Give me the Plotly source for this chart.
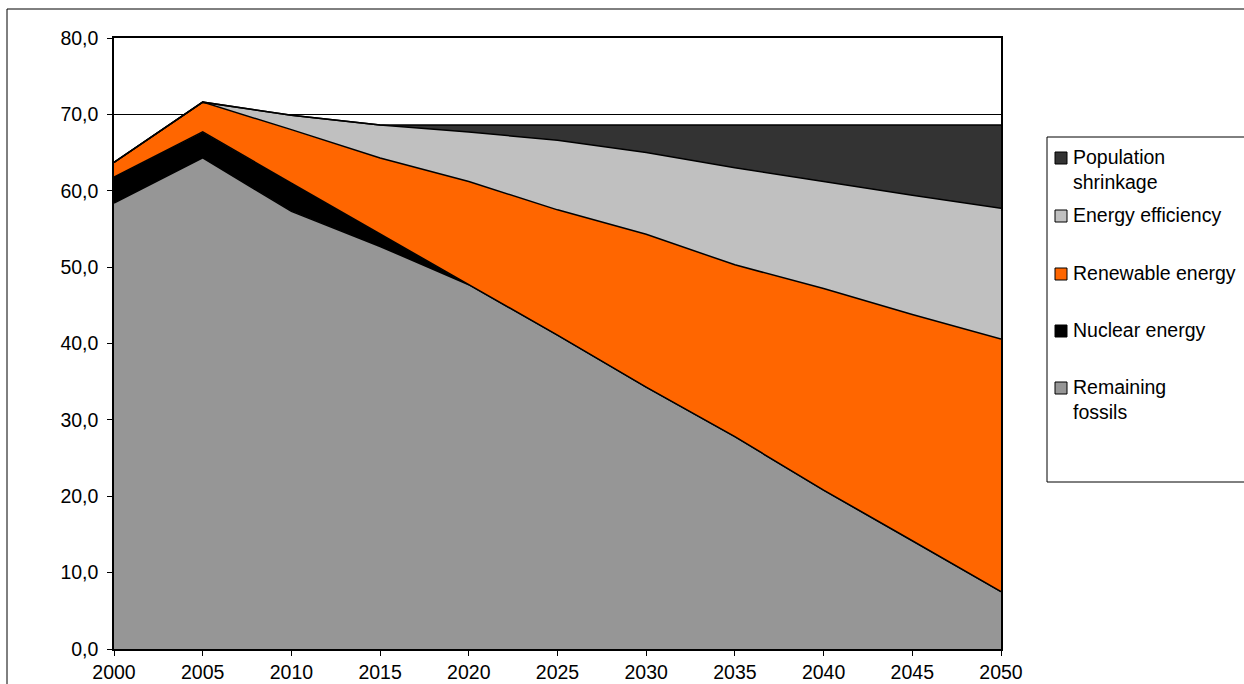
import plotly.graph_objects as go

years = [2000, 2005, 2010, 2015, 2020, 2025, 2030, 2035, 2040, 2045, 2050]
remaining_fossils = [58.4, 64.3, 57.3, 52.7, 47.7, 41.1, 34.3, 27.8, 20.8, 14.2, 7.5]
nuclear_energy = [3.4, 3.4, 3.7, 1.6, 0.0, 0.0, 0.0, 0.0, 0.0, 0.0, 0.0]
renewable_energy = [1.9, 3.9, 7.0, 10.0, 13.5, 16.4, 20.0, 22.5, 26.4, 29.6, 33.1]
energy_efficiency = [0.0, 0.0, 1.9, 4.3, 6.5, 9.1, 10.7, 12.7, 14.0, 15.6, 17.1]
population_shrinkage = [0.0, 0.0, 0.0, 0.0, 0.9, 2.0, 3.6, 5.6, 7.4, 9.2, 10.9]

series_names = ["Remaining<br>fossils", "Nuclear energy", "Renewable energy",
                "Energy efficiency", "Population<br>shrinkage"]
series_values = [remaining_fossils, nuclear_energy, renewable_energy,
                 energy_efficiency, population_shrinkage]
series_colors = ["#969696", "#000000", "#FF6600", "#C0C0C0", "#333333"]

y_ticks = [0, 10, 20, 30, 40, 50, 60, 70, 80]
x_ticks = years

W, H = 1244, 684
L, R, T, B = 114, 1001, 38, 649
FONT = "Liberation Sans, Arial, sans-serif"
FS = 19.5


def px(x):
    return (x - L) / (R - L)


def py(y):
    return (B - y) / (B - T)


fig = go.Figure()
for name, vals, col in zip(series_names, series_values, series_colors):
    fig.add_trace(go.Scatter(
        x=years, y=vals, name=name.replace("<br>", " "), mode="lines",
        stackgroup="one", fillcolor=col,
        line=dict(color="#000000", width=1.5),
        showlegend=False, hoverinfo="x+y+name",
    ))

shapes = []
annotations = []
# outer chart border
shapes.append(dict(type="rect", xref="paper", yref="paper",
                   x0=px(7), x1=px(1260), y0=py(700), y1=py(9),
                   line=dict(color="#000000", width=1), layer="below"))
# legend box
shapes.append(dict(type="rect", xref="paper", yref="paper",
                   x0=px(1047), x1=px(1260), y0=py(482), y1=py(137),
                   line=dict(color="#000000", width=1), fillcolor="white", layer="below"))
legend_centers = [158, 216, 274, 331, 388]
legend_order = list(range(len(series_names)))[::-1]
for yc, idx in zip(legend_centers, legend_order):
    shapes.append(dict(type="rect", xref="paper", yref="paper",
                       x0=px(1055), x1=px(1067), y0=py(yc + 6), y1=py(yc - 6),
                       fillcolor=series_colors[idx],
                       line=dict(color="#000000", width=1)))
    annotations.append(dict(xref="paper", yref="paper", x=px(1072), y=py(yc - 13),
                            xanchor="left", yanchor="top", showarrow=False,
                            align="left", text=series_names[idx],
                            font=dict(family=FONT, size=FS, color="#000000"),
                            borderpad=0))

fig.update_layout(
    width=W, height=H,
    margin=dict(l=L, r=W - R, t=T, b=H - B, autoexpand=False),
    paper_bgcolor="white", plot_bgcolor="white",
    separators=",.",
    font=dict(family=FONT, size=FS, color="#000000"),
    shapes=shapes, annotations=annotations,
    showlegend=False,
)
fig.update_xaxes(
    range=[2000, 2050], tickmode="array", tickvals=x_ticks,
    ticktext=[str(v) for v in x_ticks], automargin=False,
    ticks="outside", ticklen=5, tickcolor="#000000",
    showline=True, linecolor="#000000", linewidth=1.5, mirror=True,
    showgrid=False, zeroline=False,
    tickfont=dict(family=FONT, size=FS, color="#000000"),
)
fig.update_yaxes(
    range=[0, 80], tickmode="array", tickvals=y_ticks, tickformat=".1f",
    automargin=False, ticklabelstandoff=5,
    ticks="outside", ticklen=5, tickcolor="#000000",
    showline=True, linecolor="#000000", linewidth=1.5, mirror=True,
    showgrid=True, gridcolor="#000000", gridwidth=1, zeroline=False,
    tickfont=dict(family=FONT, size=FS, color="#000000"),
)

fig.write_html("out.html")
